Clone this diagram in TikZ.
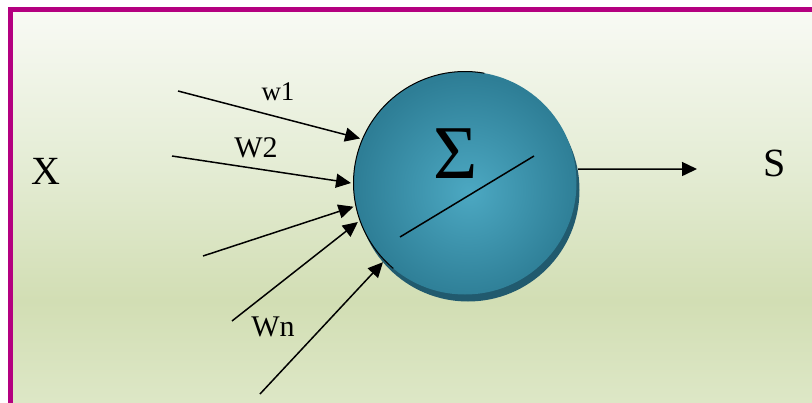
\documentclass[tikz,border=0pt]{standalone}
\usepackage{fontspec}
\setmainfont{Liberation Serif}
\usepackage{xcolor}
\usepackage{tikz}
\usetikzlibrary{arrows.meta, positioning, shapes.geometric}

\definecolor{framepink}{RGB}{180,0,128}
\definecolor{bgtop}{RGB}{248,250,244}
\definecolor{bgmid}{RGB}{228,236,212}
\definecolor{bglow}{RGB}{210,222,180}
\definecolor{bgbot}{RGB}{221,231,198}
\definecolor{ballin}{RGB}{76,168,194}
\definecolor{ballout}{RGB}{46,126,150}
\definecolor{ballshadow}{RGB}{33,90,110}

\pgfdeclareverticalshading{bgshade}{100bp}{color(0bp)=(bgbot); color(25bp)=(bgbot); color(38bp)=(bglow); color(55bp)=(bgmid); color(75bp)=(bgtop); color(100bp)=(bgtop)}
\pgfdeclareradialshading{ballshade}{\pgfpoint{1bp}{-2bp}}{color(0bp)=(ballin); color(25bp)=(ballout); color(50bp)=(ballout)}

\begin{document}
\begin{tikzpicture}[
    x=1pt, y=-1pt,
    >={Triangle[length=15pt, width=14pt]},
    wire/.style={->, line width=1.5pt},
    lbl/.style={inner sep=0pt, font=\fontsize{30}{36}\selectfont},
    big/.style={inner sep=0pt, font=\fontsize{40}{48}\selectfont}
]

% Frame and background
\useasboundingbox (0,0) rectangle (812,402);
\clip (0,0) rectangle (812,402);
\fill[white] (0,0) rectangle (812,402);
\shade[shading=bgshade] (13,12) rectangle (812,402);
\draw[framepink, line width=4.5pt] (10.5,9.5) rectangle (840,430);

% Neuron
\fill[ballshadow] (468,190) circle[radius=111.5pt];
\node[circle, shade, shading=ballshade, minimum size=223pt,
      inner sep=0pt, outer sep=2.5pt] (neuron) at (465,183) {};
\draw[line width=1pt] (neuron.center) ++(80:111.5pt)
    arc[start angle=80, end angle=230, radius=111.5pt];
\node[inner sep=0pt, font=\fontsize{76}{80}\selectfont] (sigma) at (456,154) {Σ};
\draw[line width=1.5pt] (400,237) -- (534,156);

% Inputs
\coordinate (in1) at (178,91);
\coordinate (in2) at (172,156);
\coordinate (in3) at (203,256);
\coordinate (in4) at (232,321);
\coordinate (in5) at (260,394);

\draw[wire] (in1) -- (neuron.157);
\draw[wire] (in2) -- (neuron.180);
\draw[wire] (in3) -- (neuron.192);
\draw[wire] (in4) -- (neuron.200);
\draw[wire] (in5) -- (neuron.224);

% Output
\coordinate (out) at (697,169);
\draw[wire] (neuron.7) -- (out);

% Labels
\node[lbl, font=\fontsize{27}{32}\selectfont] (w1) at (278,92) {w1};
\node[lbl] (w2) at (256,148) {W2};
\node[lbl] (wn) at (273,327) {Wn};
\node[big] (x) at (46,171) {X};
\node[big] (s) at (775,163) {S};

\end{tikzpicture}
\end{document}
